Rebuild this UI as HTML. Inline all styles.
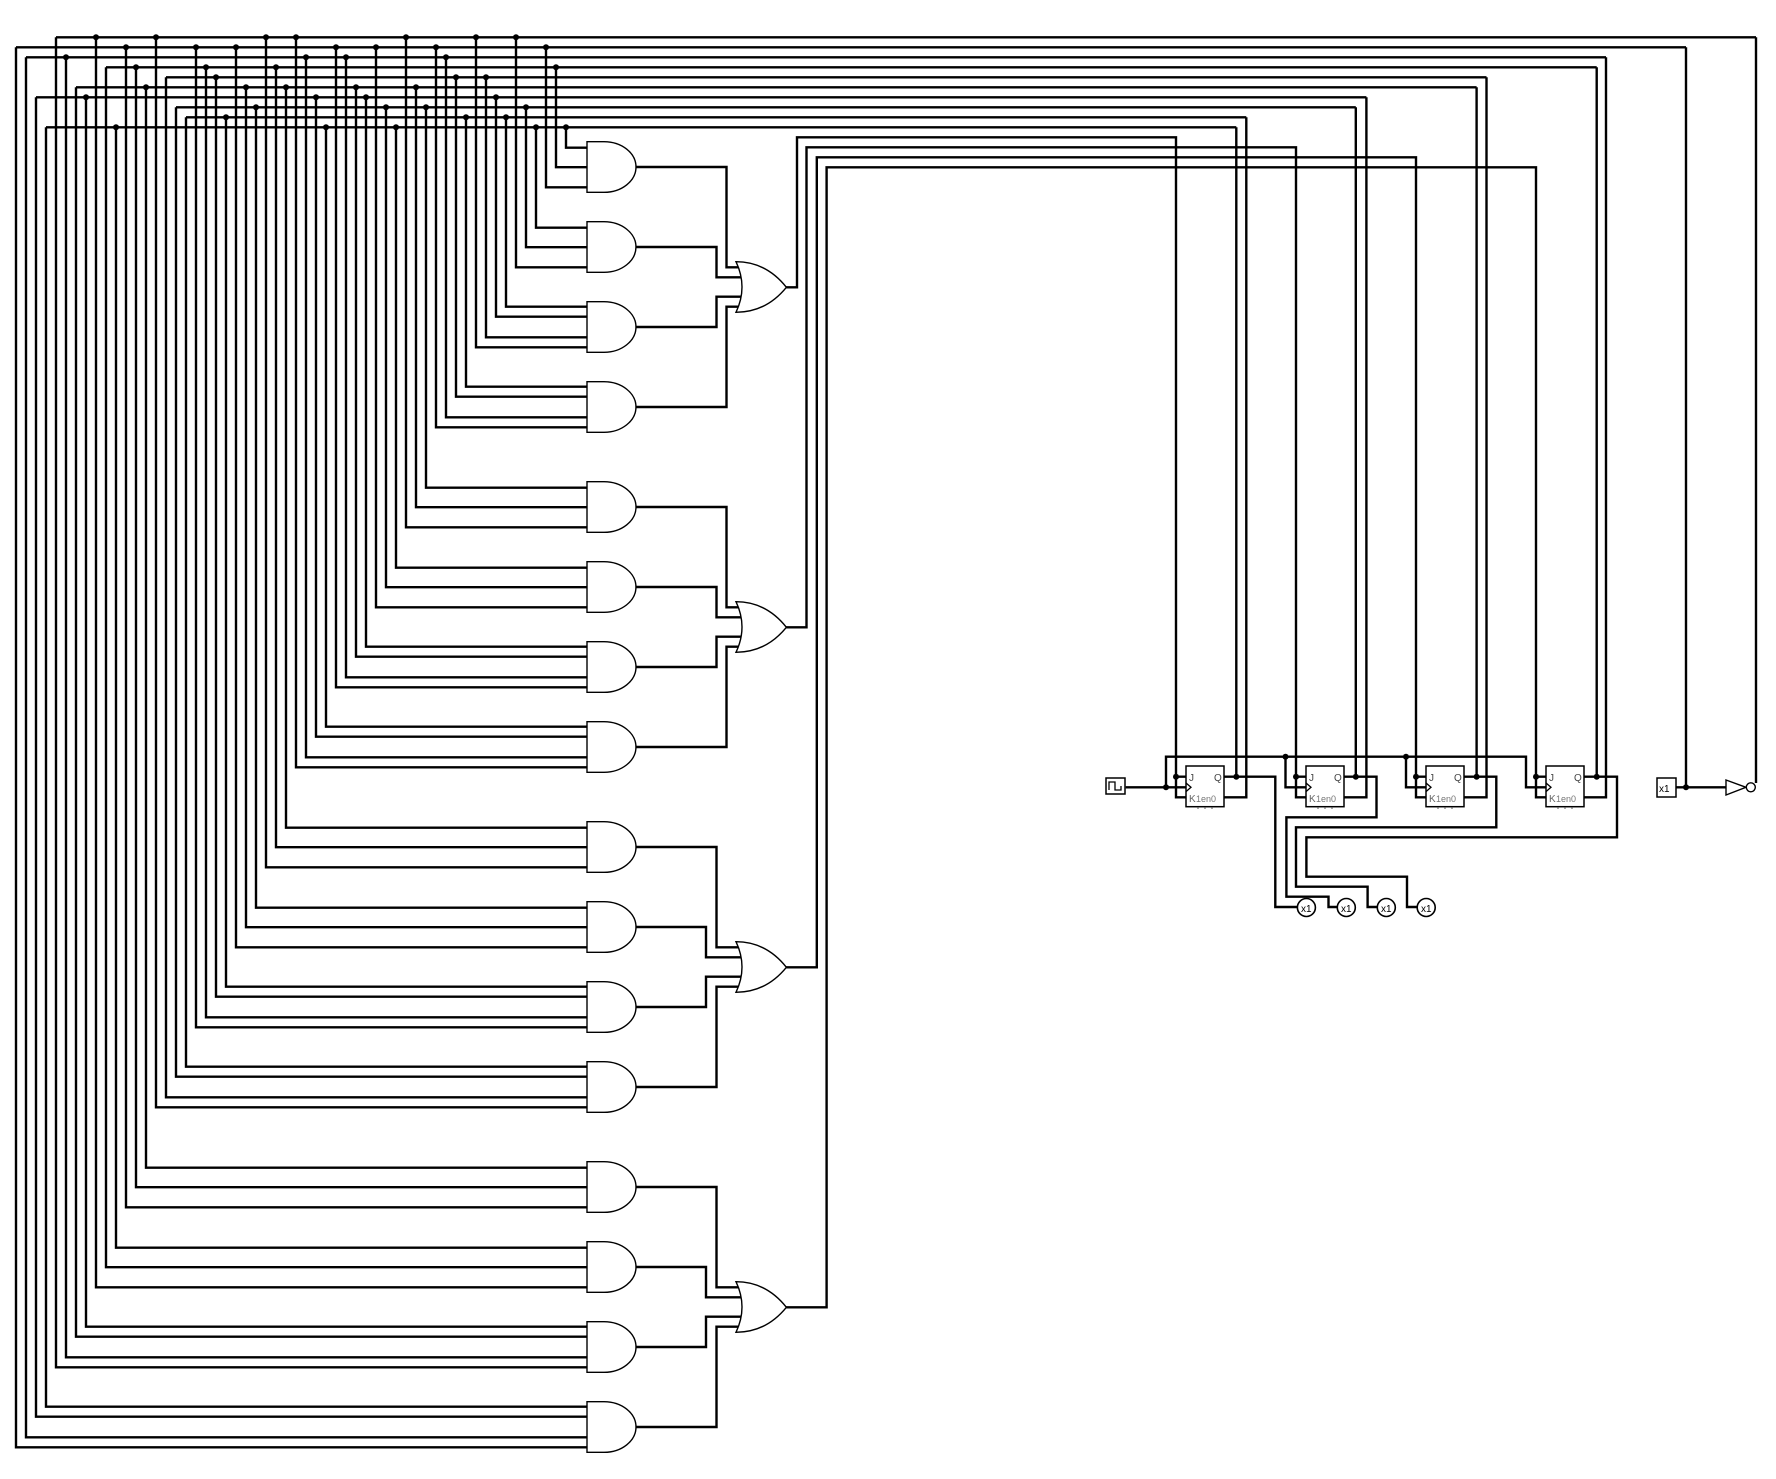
<!DOCTYPE html>
<html><head><meta charset="utf-8"><style>
html,body{margin:0;padding:0;background:#fff;}
svg{display:block;}
text{font-family:"Liberation Sans",sans-serif;}
</style></head><body>
<svg id="s" xmlns="http://www.w3.org/2000/svg" width="1776" height="1479" viewBox="0 0 1776 1479">
<rect width="1776" height="1479" fill="#fff"/>
<g id="w" fill="none" stroke="#000" stroke-width="2.4"></g>
<g id="g" fill="#fff" stroke="#000" stroke-width="1.4"></g>
<g id="d" fill="#000"></g>
<g id="t">
<rect x="1106" y="778" width="19" height="16" fill="#fff" stroke="#000" stroke-width="1.5"/>
<path d="M1109,790 V782 H1115 V790 H1121 V786" fill="none" stroke="#000" stroke-width="1.3"/>
<rect x="1657" y="778" width="19" height="19" fill="#fff" stroke="#000" stroke-width="1.5"/>
<text x="1659" y="792" font-size="10">x1</text>
<text x="1189" y="781" font-size="10" fill="#444">J</text><text x="1214" y="781" font-size="10" fill="#444">Q</text><text x="1189" y="802" font-size="10" fill="#666">K</text><text x="1196" y="802" font-size="9" fill="#777">1en0</text>
<text x="1309" y="781" font-size="10" fill="#444">J</text><text x="1334" y="781" font-size="10" fill="#444">Q</text><text x="1309" y="802" font-size="10" fill="#666">K</text><text x="1316" y="802" font-size="9" fill="#777">1en0</text>
<text x="1429" y="781" font-size="10" fill="#444">J</text><text x="1454" y="781" font-size="10" fill="#444">Q</text><text x="1429" y="802" font-size="10" fill="#666">K</text><text x="1436" y="802" font-size="9" fill="#777">1en0</text>
<text x="1549" y="781" font-size="10" fill="#444">J</text><text x="1574" y="781" font-size="10" fill="#444">Q</text><text x="1549" y="802" font-size="10" fill="#666">K</text><text x="1556" y="802" font-size="9" fill="#777">1en0</text>
<text x="1301" y="912" font-size="10">x1</text>
<text x="1341" y="912" font-size="10">x1</text>
<text x="1381" y="912" font-size="10">x1</text>
<text x="1421" y="912" font-size="10">x1</text>
</g>
</svg>
<script>
var NS="http://www.w3.org/2000/svg";
var W=document.getElementById('w'),G=document.getElementById('g'),D=document.getElementById('d'),T=document.getElementById('t');
function p(par,d,attrs){var e=document.createElementNS(NS,'path');e.setAttribute('d',d);if(attrs)for(var k in attrs)e.setAttribute(k,attrs[k]);par.appendChild(e);return e;}
function dot(x,y){var c=document.createElementNS(NS,'circle');c.setAttribute('cx',x);c.setAttribute('cy',y);c.setAttribute('r',3);D.appendChild(c);}
function circ(par,x,y,r){var c=document.createElementNS(NS,'circle');c.setAttribute('cx',x);c.setAttribute('cy',y);c.setAttribute('r',r);par.insertBefore(c,par.firstChild);return c;}
var busY=[],i;for(i=0;i<10;i++)busY.push(37.3+10*i);
var R=[1756,1686,1606,1596.7,1486.5,1476.6,1366.4,1355.8,1246.3,1236.3];
var map=[1,2,6,9,0,2,5,6,0,3,9,1,3,5,0,4,7,8,1,3,4,8,1,5,7,0,3,5,0,2,6,9,1,2,5,6,1,7,9,0,5,7,1,2,4,8,0,4,6,8,0,7,9,1,3,9];
var corner={};
for(var k=0;k<56;k++){var j=map[k];if(corner[j]===undefined)corner[j]=k;}
function xk(k){return 16+10*k;}
for(j=0;j<10;j++){p(W,'M'+xk(corner[j])+','+busY[j]+' H'+R[j]);}
var counts=[3,3,4,4],off3=[6,25.5,45.6],off4=[5,15,35.6,45.6];
var inputs=[];
for(var g=0;g<4;g++)for(var gi=0;gi<4;gi++){var Tp=141.7+340*g+80*gi;var offs=counts[gi]==3?off3:off4;for(var q=0;q<offs.length;q++)inputs.push(Tp+offs[q]);}
for(k=0;k<56;k++){var ii=55-k;var y=inputs[ii];j=map[k];p(W,'M'+xk(k)+','+busY[j]+' V'+y+' H588');if(corner[j]!==k)dot(xk(k),busY[j]);}
var conn=[[726.5,716.5,716.5,726.5],[726.5,716.5,716.5,726.5],[716.5,706,706,716.5],[716.5,706,706,716.5]];
var ORv=[797,806.5,816.8,826.6],ORy=[137.3,147.3,157.3,167.3],ORend=[1176,1296,1416,1536];
for(g=0;g<4;g++){
 var Ot=261.7+340*g,oin=[Ot+5.6,Ot+15.6,Ot+35,Ot+45];
 for(gi=0;gi<4;gi++){var Tp=141.7+340*g+80*gi;
  p(G,'M587,'+Tp+' H604 A32,25.3 0 0 1 604,'+(Tp+50.6)+' H587 Z');
  p(W,'M636,'+(Tp+25.3)+' H'+conn[g][gi]+' V'+oin[gi]+' H744');
 }
 p(G,'M736,'+Ot+' Q766,'+Ot+' 786.4,'+(Ot+25.6)+' Q766,'+(Ot+50.6)+' 736,'+(Ot+50.6)+' Q748,'+(Ot+25.3)+' 736,'+Ot+' Z');
 var fl=1186+120*g;
 p(W,'M786,'+(Ot+25.6)+' H'+ORv[g]+' V'+ORy[g]+' H'+ORend[g]+' V797.3 H'+fl+' M'+ORend[g]+',776.7 H'+fl);
 dot(ORend[g],776.7);
}
for(g=0;g<4;g++){var fl=1186+120*g;
 var r=document.createElementNS(NS,'rect');r.setAttribute('x',fl);r.setAttribute('y',766);r.setAttribute('width',38);r.setAttribute('height',40.7);r.setAttribute('fill','#fff');r.setAttribute('stroke','#000');r.setAttribute('stroke-width','1.5');T.insertBefore(r,T.firstChild);
 p(T,'M'+fl+',783 L'+(fl+5)+',787.3 L'+fl+',791.6',{fill:'none',stroke:'#000','stroke-width':1.3});
 p(T,'M'+(fl+12)+',807 v2 M'+(fl+19)+',807 v2 M'+(fl+26)+',807 v2',{fill:'none',stroke:'#555','stroke-width':1});
}
var Qx=[1236.3,1355.8,1476.6,1596.7],Qbx=[1246.3,1366.4,1486.5,1606];
for(g=0;g<4;g++){var fr=1224+120*g;
 p(W,'M'+Qbx[g]+','+busY[[8,6,4,2][g]]+' V797.3 H'+fr);
 p(W,'M'+Qx[g]+','+busY[[9,7,5,3][g]]+' V776.7');
 dot(Qx[g],776.7);
}
p(W,'M1224,776.7 H1275.3 V907 H1297');
p(W,'M1344,776.7 H1376.5 V817.3 H1286.4 V896.7 H1328.5 V907 H1337');
p(W,'M1464,776.7 H1496.3 V827.3 H1296 V886.7 H1367.6 V907 H1377');
p(W,'M1584,776.7 H1617 V837.3 H1306.4 V876.7 H1407 V907 H1417');
[1306.4,1346.3,1386.3,1426.2].forEach(function(x){var c=circ(T,x,907.5,9);c.setAttribute('fill','#fff');c.setAttribute('stroke','#000');c.setAttribute('stroke-width','1.6');});
p(W,'M1125.7,787.3 H1186 M1166,787.3 V756.7 H1526 V787.3 H1546 M1285.5,756.7 V787.3 H1306 M1406,756.7 V787.3 H1426');
dot(1166,787.3);dot(1285.5,756.7);dot(1406,756.7);
p(W,'M1676,787.3 H1726 M1686,787.3 V'+busY[1]+' M1756,'+busY[0]+' V783');
dot(1686,787.3);
p(G,'M1726,780 L1746,787.3 L1726,795 Z');
var b=circ(G,1750.8,787.3,4.5);G.appendChild(b);
</script>
</body></html>
